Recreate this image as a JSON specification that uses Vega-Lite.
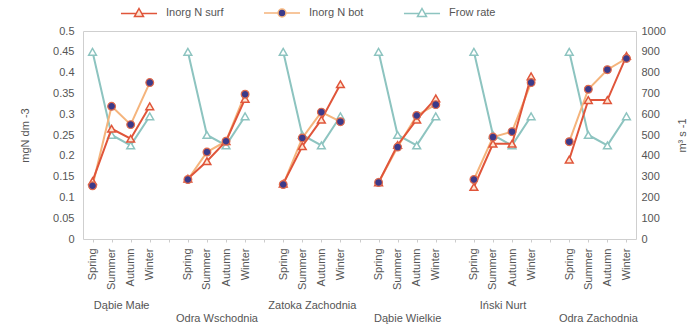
{
  "$schema": "https://vega.github.io/schema/vega-lite/v6.json",
  "width": 553,
  "height": 208,
  "autosize": {"type": "none"},
  "padding": {"left": 83, "top": 31, "right": 64, "bottom": 95},
  "config": {
    "font": "Liberation Sans",
    "view": {"stroke": "#cfcfcf", "strokeWidth": 1},
    "axis": {
      "labelFont": "Liberation Sans",
      "titleFont": "Liberation Sans",
      "labelColor": "#555555",
      "titleColor": "#555555",
      "labelFontSize": 11,
      "titleFontSize": 11,
      "titleFontWeight": "normal",
      "grid": false,
      "domain": false,
      "ticks": false
    },
    "legend": {
      "orient": "none",
      "legendX": 37,
      "legendY": -37,
      "direction": "horizontal",
      "symbolSize": 1300,
      "symbolStrokeWidth": 1.5,
      "labelFont": "Liberation Sans",
      "labelFontSize": 11,
      "labelColor": "#555555",
      "labelOffset": 8,
      "columnPadding": 36,
      "padding": 0
    }
  },
  "data": {
    "values": [
      {"site": "Dąbie Małe", "season": "Spring", "slot": "Dąbie Małe|Spring", "surf": 0.139, "bot": 0.128, "flow": 900},
      {"site": "Dąbie Małe", "season": "Summer", "slot": "Dąbie Małe|Summer", "surf": 0.265, "bot": 0.319, "flow": 500},
      {"site": "Dąbie Małe", "season": "Autumn", "slot": "Dąbie Małe|Autumn", "surf": 0.241, "bot": 0.275, "flow": 450},
      {"site": "Dąbie Małe", "season": "Winter", "slot": "Dąbie Małe|Winter", "surf": 0.319, "bot": 0.376, "flow": 590},
      {"site": "Odra Wschodnia", "season": "Spring", "slot": "Odra Wschodnia|Spring", "surf": 0.145, "bot": 0.143, "flow": 900},
      {"site": "Odra Wschodnia", "season": "Summer", "slot": "Odra Wschodnia|Summer", "surf": 0.187, "bot": 0.209, "flow": 500},
      {"site": "Odra Wschodnia", "season": "Autumn", "slot": "Odra Wschodnia|Autumn", "surf": 0.235, "bot": 0.235, "flow": 450},
      {"site": "Odra Wschodnia", "season": "Winter", "slot": "Odra Wschodnia|Winter", "surf": 0.337, "bot": 0.348, "flow": 590},
      {"site": "Zatoka Zachodnia", "season": "Spring", "slot": "Zatoka Zachodnia|Spring", "surf": 0.133, "bot": 0.131, "flow": 900},
      {"site": "Zatoka Zachodnia", "season": "Summer", "slot": "Zatoka Zachodnia|Summer", "surf": 0.223, "bot": 0.243, "flow": 500},
      {"site": "Zatoka Zachodnia", "season": "Autumn", "slot": "Zatoka Zachodnia|Autumn", "surf": 0.287, "bot": 0.305, "flow": 450},
      {"site": "Zatoka Zachodnia", "season": "Winter", "slot": "Zatoka Zachodnia|Winter", "surf": 0.372, "bot": 0.282, "flow": 590},
      {"site": "Dąbie Wielkie", "season": "Spring", "slot": "Dąbie Wielkie|Spring", "surf": 0.136, "bot": 0.136, "flow": 900},
      {"site": "Dąbie Wielkie", "season": "Summer", "slot": "Dąbie Wielkie|Summer", "surf": 0.226, "bot": 0.221, "flow": 500},
      {"site": "Dąbie Wielkie", "season": "Autumn", "slot": "Dąbie Wielkie|Autumn", "surf": 0.287, "bot": 0.297, "flow": 450},
      {"site": "Dąbie Wielkie", "season": "Winter", "slot": "Dąbie Wielkie|Winter", "surf": 0.338, "bot": 0.323, "flow": 590},
      {"site": "Iński Nurt", "season": "Spring", "slot": "Iński Nurt|Spring", "surf": 0.125, "bot": 0.143, "flow": 900},
      {"site": "Iński Nurt", "season": "Summer", "slot": "Iński Nurt|Summer", "surf": 0.229, "bot": 0.245, "flow": 500},
      {"site": "Iński Nurt", "season": "Autumn", "slot": "Iński Nurt|Autumn", "surf": 0.229, "bot": 0.258, "flow": 450},
      {"site": "Iński Nurt", "season": "Winter", "slot": "Iński Nurt|Winter", "surf": 0.391, "bot": 0.376, "flow": 590},
      {"site": "Odra Zachodnia", "season": "Spring", "slot": "Odra Zachodnia|Spring", "surf": 0.191, "bot": 0.234, "flow": 900},
      {"site": "Odra Zachodnia", "season": "Summer", "slot": "Odra Zachodnia|Summer", "surf": 0.334, "bot": 0.360, "flow": 500},
      {"site": "Odra Zachodnia", "season": "Autumn", "slot": "Odra Zachodnia|Autumn", "surf": 0.334, "bot": 0.407, "flow": 450},
      {"site": "Odra Zachodnia", "season": "Winter", "slot": "Odra Zachodnia|Winter", "surf": 0.440, "bot": 0.434, "flow": 590}
    ]
  },
  "layer": [
    {
      "encoding": {
        "x": {
          "field": "slot",
          "type": "ordinal",
          "scale": {
            "type": "point",
            "padding": 0.5,
            "domain": [
              "Dąbie Małe|Spring", "Dąbie Małe|Summer", "Dąbie Małe|Autumn", "Dąbie Małe|Winter", "gap1",
              "Odra Wschodnia|Spring", "Odra Wschodnia|Summer", "Odra Wschodnia|Autumn", "Odra Wschodnia|Winter", "gap2",
              "Zatoka Zachodnia|Spring", "Zatoka Zachodnia|Summer", "Zatoka Zachodnia|Autumn", "Zatoka Zachodnia|Winter", "gap3",
              "Dąbie Wielkie|Spring", "Dąbie Wielkie|Summer", "Dąbie Wielkie|Autumn", "Dąbie Wielkie|Winter", "gap4",
              "Iński Nurt|Spring", "Iński Nurt|Summer", "Iński Nurt|Autumn", "Iński Nurt|Winter", "gap5",
              "Odra Zachodnia|Spring", "Odra Zachodnia|Summer", "Odra Zachodnia|Autumn", "Odra Zachodnia|Winter"
            ]
          },
          "axis": {
            "title": null,
            "orient": "bottom",
            "labelAngle": 270,
            "labelExpr": "indexof(datum.value, '|') >= 0 ? split(datum.value, '|')[1] : ''",
            "ticks": true,
            "tickSize": 3,
            "tickColor": "#cccccc",
            "labelPadding": 6
          }
        }
      },
      "layer": [
        {
          "encoding": {
            "y": {
              "field": "flow",
              "type": "quantitative",
              "scale": {"domain": [0, 1000], "nice": false},
              "axis": {
                "orient": "right",
                "title": "m³ s -1",
                "titleAngle": 270,
                "values": [0, 100, 200, 300, 400, 500, 600, 700, 800, 900, 1000],
                "format": "d",
                "labelPadding": 5,
                "titlePadding": 22
              }
            }
          },
          "layer": [
            {
              "mark": {"type": "line", "stroke": "#8dc4c0", "strokeWidth": 2},
              "encoding": {"detail": {"field": "site"}, "order": {"value": null}}
            },
            {
              "mark": {"type": "point", "shape": "triangle-up", "filled": true, "fill": "#ffffff", "stroke": "#8dc4c0", "strokeWidth": 1.5, "size": 60, "opacity": 1}
            }
          ]
        },
        {
          "encoding": {
            "y": {
              "type": "quantitative",
              "scale": {"domain": [0, 0.5], "nice": false},
              "axis": {
                "orient": "left",
                "title": "mgN  dm -3",
                "values": [0, 0.05, 0.1, 0.15, 0.2, 0.25, 0.3, 0.35, 0.4, 0.45, 0.5],
                "format": "~g",
                "labelPadding": 9,
                "titlePadding": 22
              }
            }
          },
          "layer": [
            {
              "mark": {"type": "line", "stroke": "#f5b47c", "strokeWidth": 2},
              "encoding": {"y": {"field": "bot", "type": "quantitative"}, "detail": {"field": "site"}, "order": {"value": null}}
            },
            {
              "mark": {"type": "line", "stroke": "#e0553a", "strokeWidth": 2},
              "encoding": {"y": {"field": "surf", "type": "quantitative"}, "detail": {"field": "site"}, "order": {"value": null}}
            },
            {
              "mark": {"type": "point", "shape": "triangle-up", "filled": true, "fill": "#fde6d4", "stroke": "#e0553a", "strokeWidth": 1.5, "size": 60, "opacity": 1},
              "encoding": {"y": {"field": "surf", "type": "quantitative"}}
            },
            {
              "mark": {"type": "point", "shape": "circle", "filled": true, "fill": "#3b3a8a", "stroke": "#e06a4c", "strokeWidth": 1.2, "size": 60, "opacity": 1},
              "encoding": {"y": {"field": "bot", "type": "quantitative"}}
            }
          ]
        }
      ],
      "resolve": {"scale": {"y": "independent"}}
    },
    {
      "data": {
        "values": [
          {"site": "Dąbie Małe"}, {"site": "Odra Wschodnia"}, {"site": "Zatoka Zachodnia"},
          {"site": "Dąbie Wielkie"}, {"site": "Iński Nurt"}, {"site": "Odra Zachodnia"}
        ]
      },
      "mark": {"type": "point", "opacity": 0},
      "encoding": {
        "x": {
          "field": "site",
          "type": "nominal",
          "scale": {
            "type": "point",
            "padding": 0.4,
            "domain": ["Dąbie Małe", "Odra Wschodnia", "Zatoka Zachodnia", "Dąbie Wielkie", "Iński Nurt", "Odra Zachodnia"]
          },
          "axis": {
            "title": null,
            "orient": "bottom",
            "offset": 55,
            "labelAngle": 0,
            "ticks": false,
            "domain": false,
            "labelPadding": {
              "condition": {"test": "indexof(['Odra Wschodnia','Dąbie Wielkie','Odra Zachodnia'], datum.value) >= 0", "value": 18},
              "value": 5
            }
          }
        }
      }
    },
    {
      "data": {
        "values": [{"series": "Inorg N surf"}, {"series": "Inorg N bot"}, {"series": "Frow rate"}]
      },
      "transform": [{"filter": "false"}],
      "mark": {"type": "point", "filled": true, "opacity": 1, "strokeWidth": 1.5},
      "encoding": {
        "shape": {
          "field": "series",
          "type": "nominal",
          "scale": {
            "domain": ["Inorg N surf", "Inorg N bot", "Frow rate"],
            "range": [
              "M-1,0H-0.15M0.15,0H1M0,-0.27L0.25,0.18H-0.25Z",
              "M-1,0H-0.22M0.22,0H1M0.22,0A0.22,0.22 0 1 1 -0.22,0A0.22,0.22 0 1 1 0.22,0Z",
              "M-1,0H-0.15M0.15,0H1M0,-0.27L0.25,0.18H-0.25Z"
            ]
          },
          "legend": {"title": null}
        },
        "stroke": {
          "field": "series",
          "type": "nominal",
          "scale": {"domain": ["Inorg N surf", "Inorg N bot", "Frow rate"], "range": ["#e0553a", "#f5b47c", "#8dc4c0"]},
          "legend": {"title": null}
        },
        "fill": {
          "field": "series",
          "type": "nominal",
          "scale": {"domain": ["Inorg N surf", "Inorg N bot", "Frow rate"], "range": ["#fde6d4", "#3b3a8a", "#ffffff"]},
          "legend": {"title": null}
        }
      }
    }
  ],
  "resolve": {"scale": {"x": "independent", "y": "independent"}}
}
